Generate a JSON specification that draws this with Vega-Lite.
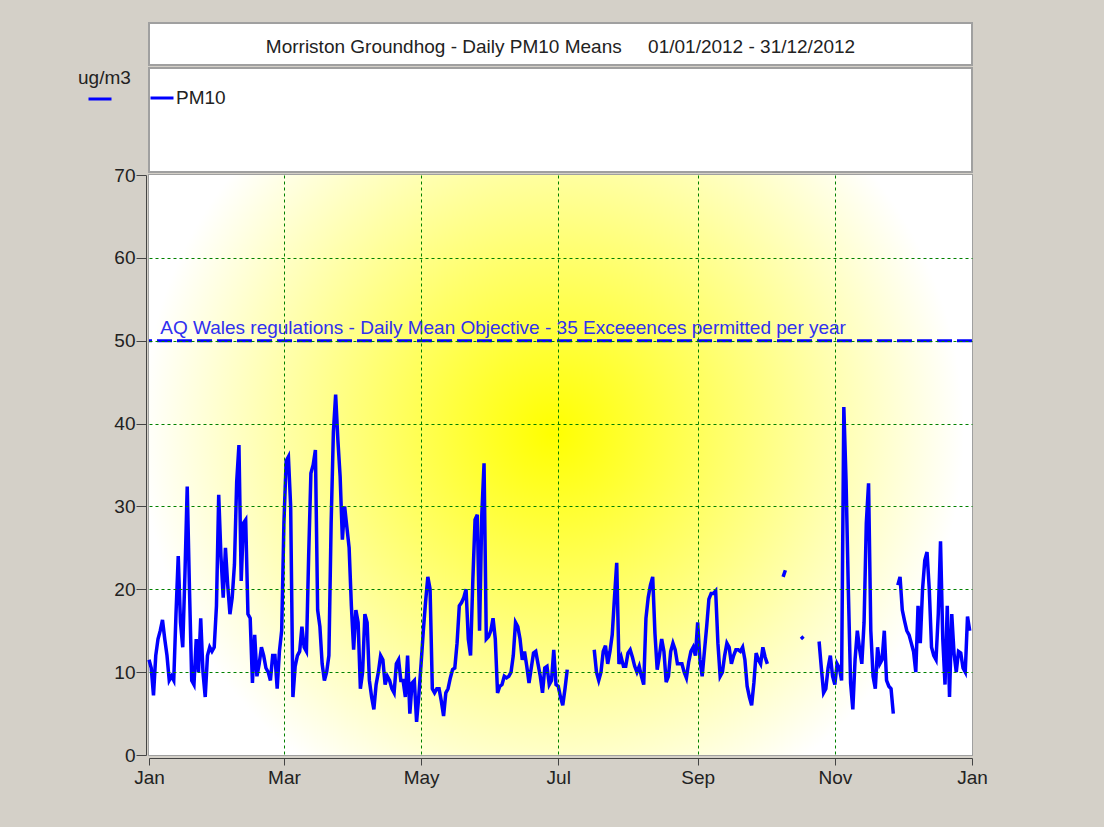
{
"$schema": "https://vega.github.io/schema/vega-lite/v6.json",
"background": "#d4d0c8",
"padding": {"left": 78, "top": 22, "right": 118, "bottom": 39},
"config": {
  "font": "Liberation Sans",
  "view": {"stroke": "#a0a0a0", "strokeWidth": 2, "fill": "#ffffff"},
  "text": {"font": "Liberation Sans"}
},
"bounds": "flush",
"spacing": 3,
"vconcat": [
  {
    "width": 823, "height": 42,
    "data": {"values": [{"t": "Morriston Groundhog - Daily PM10 Means \u00a0\u00a0\u00a0\u00a001/01/2012 - 31/12/2012"}]},
    "mark": {"type": "text", "fontSize": 19, "color": "#222222", "dy": 3},
    "encoding": {
      "x": {"datum": 0, "type": "quantitative", "scale": {"domain": [-1, 1]}, "axis": null},
      "y": {"datum": 0, "type": "quantitative", "scale": {"domain": [-1, 1]}, "axis": null},
      "text": {"field": "t"}
    }
  },
  {
    "width": 823, "height": 104,
    "data": {"values": [{"t": ""}]},
    "mark": {"type": "text", "fontSize": 19},
    "encoding": {
      "x": {"datum": 0, "type": "quantitative", "scale": {"domain": [-1, 1]}, "axis": null},
      "y": {"datum": 0, "type": "quantitative", "scale": {"domain": [-1, 1]}, "axis": null},
      "text": {"field": "t"}
    }
  },
  {
    "width": 823, "height": 580,
    "layer": [
      {
        "data": {"values": [{}]},
        "mark": {"type": "rect", "color": {"gradient": "radial", "x1": 0.49, "y1": 0.46, "r1": 0, "x2": 0.49, "y2": 0.46, "r2": 0.5, "stops": [{"offset": 0, "color": "#ffff00"}, {"offset": 1, "color": "#ffffff"}]}},
        "encoding": {
          "x": {"datum": {"year": 2012, "month": 1, "date": 1, "utc": true}, "type": "temporal"},
          "x2": {"datum": {"year": 2013, "month": 1, "date": 1, "utc": true}},
          "y": {"datum": 0, "type": "quantitative"},
          "y2": {"datum": 70}
        }
      },
      {
        "data": {"values": [{}]},
        "mark": {"type": "rule", "color": "#0000ff", "strokeWidth": 3, "strokeDash": [15, 5]},
        "encoding": {"y": {"datum": 50, "type": "quantitative"}}
      },
      {
        "data": {"values": [{}]},
        "mark": {"type": "text", "align": "left", "baseline": "alphabetic", "dy": -7, "fontSize": 19, "color": "#3030f0"},
        "encoding": {
          "x": {"datum": {"year": 2012, "month": 1, "date": 6, "utc": true}, "type": "temporal"},
          "y": {"datum": 50, "type": "quantitative"},
          "text": {"value": "AQ Wales regulations - Daily Mean Objective - 35 Exceeences permitted per year"}
        }
      },
      {
        "data": {"values": [
{"d":"2012-01-01","v":11.5},{"d":"2012-01-02","v":10.5},{"d":"2012-01-03","v":7.2},{"d":"2012-01-04","v":12},{"d":"2012-01-05","v":14},{"d":"2012-01-06","v":15},{"d":"2012-01-07","v":16.3},{"d":"2012-01-08","v":14},{"d":"2012-01-09","v":12},{"d":"2012-01-10","v":9},{"d":"2012-01-11","v":9.5},{"d":"2012-01-12","v":9},{"d":"2012-01-13","v":17},{"d":"2012-01-14","v":24},{"d":"2012-01-15","v":16},{"d":"2012-01-16","v":13},{"d":"2012-01-17","v":22},{"d":"2012-01-18","v":32.4},{"d":"2012-01-19","v":20},{"d":"2012-01-20","v":9},{"d":"2012-01-21","v":8.5},{"d":"2012-01-22","v":14},{"d":"2012-01-23","v":10},{"d":"2012-01-24","v":16.5},{"d":"2012-01-25","v":10},{"d":"2012-01-26","v":7},{"d":"2012-01-27","v":12},{"d":"2012-01-28","v":13},{"d":"2012-01-29","v":12.5},{"d":"2012-01-30","v":13},{"d":"2012-01-31","v":18},
{"d":"2012-02-01","v":31.4},{"d":"2012-02-02","v":24},{"d":"2012-02-03","v":19},{"d":"2012-02-04","v":25},{"d":"2012-02-05","v":20.5},{"d":"2012-02-06","v":17},{"d":"2012-02-07","v":19},{"d":"2012-02-08","v":23},{"d":"2012-02-09","v":33},{"d":"2012-02-10","v":37.4},{"d":"2012-02-11","v":21},{"d":"2012-02-12","v":28},{"d":"2012-02-13","v":28.4},{"d":"2012-02-14","v":17},{"d":"2012-02-15","v":16.5},{"d":"2012-02-16","v":8.7},{"d":"2012-02-17","v":14.5},{"d":"2012-02-18","v":9.5},{"d":"2012-02-19","v":11},{"d":"2012-02-20","v":13},{"d":"2012-02-21","v":12},{"d":"2012-02-22","v":10.5},{"d":"2012-02-23","v":10},{"d":"2012-02-24","v":9},{"d":"2012-02-25","v":12},{"d":"2012-02-26","v":12},{"d":"2012-02-27","v":8},{"d":"2012-02-28","v":12.5},{"d":"2012-02-29","v":15},
{"d":"2012-03-01","v":28},{"d":"2012-03-02","v":35.5},{"d":"2012-03-03","v":36},{"d":"2012-03-04","v":30},{"d":"2012-03-05","v":7},{"d":"2012-03-06","v":10.7},{"d":"2012-03-07","v":12},{"d":"2012-03-08","v":12.5},{"d":"2012-03-09","v":15.5},{"d":"2012-03-10","v":13},{"d":"2012-03-11","v":12.5},{"d":"2012-03-12","v":24},{"d":"2012-03-13","v":34},{"d":"2012-03-14","v":35},{"d":"2012-03-15","v":36.8},{"d":"2012-03-16","v":17.5},{"d":"2012-03-17","v":15.5},{"d":"2012-03-18","v":11},{"d":"2012-03-19","v":9},{"d":"2012-03-20","v":10},{"d":"2012-03-21","v":12},{"d":"2012-03-22","v":28},{"d":"2012-03-23","v":39},{"d":"2012-03-24","v":43.5},{"d":"2012-03-25","v":38},{"d":"2012-03-26","v":33.6},{"d":"2012-03-27","v":26},{"d":"2012-03-28","v":30},{"d":"2012-03-29","v":27.5},{"d":"2012-03-30","v":25},{"d":"2012-03-31","v":18},
{"d":"2012-04-01","v":12.7},{"d":"2012-04-02","v":17.5},{"d":"2012-04-03","v":16},{"d":"2012-04-04","v":8},{"d":"2012-04-05","v":10},{"d":"2012-04-06","v":17},{"d":"2012-04-07","v":16},{"d":"2012-04-08","v":9},{"d":"2012-04-09","v":7},{"d":"2012-04-10","v":5.5},{"d":"2012-04-11","v":8.5},{"d":"2012-04-12","v":10},{"d":"2012-04-13","v":12},{"d":"2012-04-14","v":11.5},{"d":"2012-04-15","v":8.5},{"d":"2012-04-16","v":9.5},{"d":"2012-04-17","v":9},{"d":"2012-04-18","v":8},{"d":"2012-04-19","v":7.5},{"d":"2012-04-20","v":11},{"d":"2012-04-21","v":11.5},{"d":"2012-04-22","v":9},{"d":"2012-04-23","v":9},{"d":"2012-04-24","v":7},{"d":"2012-04-25","v":12},{"d":"2012-04-26","v":5},{"d":"2012-04-27","v":8.7},{"d":"2012-04-28","v":9},{"d":"2012-04-29","v":4},{"d":"2012-04-30","v":7.2},
{"d":"2012-05-01","v":11},{"d":"2012-05-02","v":15},{"d":"2012-05-03","v":18.5},{"d":"2012-05-04","v":21.5},{"d":"2012-05-05","v":20},{"d":"2012-05-06","v":8},{"d":"2012-05-07","v":7.5},{"d":"2012-05-08","v":8},{"d":"2012-05-09","v":8},{"d":"2012-05-10","v":6.5},{"d":"2012-05-11","v":4.7},{"d":"2012-05-12","v":7.5},{"d":"2012-05-13","v":8},{"d":"2012-05-14","v":9.3},{"d":"2012-05-15","v":10.3},{"d":"2012-05-16","v":10.5},{"d":"2012-05-17","v":13.5},{"d":"2012-05-18","v":18},{"d":"2012-05-19","v":18.4},{"d":"2012-05-20","v":19},{"d":"2012-05-21","v":20},{"d":"2012-05-22","v":14},{"d":"2012-05-23","v":12},{"d":"2012-05-24","v":21},{"d":"2012-05-25","v":28.4},{"d":"2012-05-26","v":29},{"d":"2012-05-27","v":15},{"d":"2012-05-28","v":29},{"d":"2012-05-29","v":35.2},{"d":"2012-05-30","v":14},{"d":"2012-05-31","v":14.3},
{"d":"2012-06-01","v":15},{"d":"2012-06-02","v":16.5},{"d":"2012-06-03","v":14},{"d":"2012-06-04","v":7.5},{"d":"2012-06-05","v":8.3},{"d":"2012-06-06","v":8.5},{"d":"2012-06-07","v":9.5},{"d":"2012-06-08","v":9.3},{"d":"2012-06-09","v":9.5},{"d":"2012-06-10","v":10},{"d":"2012-06-11","v":12},{"d":"2012-06-12","v":16},{"d":"2012-06-13","v":15.5},{"d":"2012-06-14","v":14},{"d":"2012-06-15","v":11.5},{"d":"2012-06-16","v":12.5},{"d":"2012-06-17","v":10.7},{"d":"2012-06-18","v":8.7},{"d":"2012-06-19","v":10.5},{"d":"2012-06-20","v":12.3},{"d":"2012-06-21","v":12.5},{"d":"2012-06-22","v":11},{"d":"2012-06-23","v":9.5},{"d":"2012-06-24","v":7.5},{"d":"2012-06-25","v":10.5},{"d":"2012-06-26","v":10.7},{"d":"2012-06-27","v":8.5},{"d":"2012-06-28","v":9},{"d":"2012-06-29","v":12.7},{"d":"2012-06-30","v":8.5},
{"d":"2012-07-01","v":8.3},{"d":"2012-07-02","v":7},{"d":"2012-07-03","v":6},{"d":"2012-07-04","v":8},{"d":"2012-07-05","v":10.3},{"d":"2012-07-06","v":null},{"d":"2012-07-07","v":null},{"d":"2012-07-08","v":null},{"d":"2012-07-09","v":null},{"d":"2012-07-10","v":null},{"d":"2012-07-11","v":null},{"d":"2012-07-12","v":null},{"d":"2012-07-13","v":null},{"d":"2012-07-14","v":null},{"d":"2012-07-15","v":null},{"d":"2012-07-16","v":null},{"d":"2012-07-17","v":12.7},{"d":"2012-07-18","v":10},{"d":"2012-07-19","v":9},{"d":"2012-07-20","v":10},{"d":"2012-07-21","v":12.5},{"d":"2012-07-22","v":13.2},{"d":"2012-07-23","v":11},{"d":"2012-07-24","v":12.5},{"d":"2012-07-25","v":14.5},{"d":"2012-07-26","v":19},{"d":"2012-07-27","v":23.2},{"d":"2012-07-28","v":11},{"d":"2012-07-29","v":11.8},{"d":"2012-07-30","v":10.7},{"d":"2012-07-31","v":10.7},
{"d":"2012-08-01","v":12.3},{"d":"2012-08-02","v":12.7},{"d":"2012-08-03","v":11.8},{"d":"2012-08-04","v":10.7},{"d":"2012-08-05","v":10},{"d":"2012-08-06","v":10.7},{"d":"2012-08-07","v":9.5},{"d":"2012-08-08","v":8.5},{"d":"2012-08-09","v":16.5},{"d":"2012-08-10","v":19},{"d":"2012-08-11","v":20.5},{"d":"2012-08-12","v":21.5},{"d":"2012-08-13","v":14.7},{"d":"2012-08-14","v":10.3},{"d":"2012-08-15","v":12},{"d":"2012-08-16","v":14},{"d":"2012-08-17","v":12.5},{"d":"2012-08-18","v":8.8},{"d":"2012-08-19","v":9.5},{"d":"2012-08-20","v":12.5},{"d":"2012-08-21","v":13.5},{"d":"2012-08-22","v":12.7},{"d":"2012-08-23","v":11},{"d":"2012-08-24","v":11},{"d":"2012-08-25","v":11},{"d":"2012-08-26","v":10},{"d":"2012-08-27","v":9.3},{"d":"2012-08-28","v":11.2},{"d":"2012-08-29","v":12.5},{"d":"2012-08-30","v":13},{"d":"2012-08-31","v":12},
{"d":"2012-09-01","v":16},{"d":"2012-09-02","v":11.5},{"d":"2012-09-03","v":9.5},{"d":"2012-09-04","v":12.5},{"d":"2012-09-05","v":15.5},{"d":"2012-09-06","v":18.8},{"d":"2012-09-07","v":19.5},{"d":"2012-09-08","v":19.5},{"d":"2012-09-09","v":19.8},{"d":"2012-09-10","v":13.5},{"d":"2012-09-11","v":9.5},{"d":"2012-09-12","v":10},{"d":"2012-09-13","v":12},{"d":"2012-09-14","v":13.5},{"d":"2012-09-15","v":13},{"d":"2012-09-16","v":11},{"d":"2012-09-17","v":12},{"d":"2012-09-18","v":12.7},{"d":"2012-09-19","v":12.7},{"d":"2012-09-20","v":12.5},{"d":"2012-09-21","v":13},{"d":"2012-09-22","v":11.5},{"d":"2012-09-23","v":8.3},{"d":"2012-09-24","v":7},{"d":"2012-09-25","v":6},{"d":"2012-09-26","v":8.7},{"d":"2012-09-27","v":12.3},{"d":"2012-09-28","v":11.5},{"d":"2012-09-29","v":11},{"d":"2012-09-30","v":13},
{"d":"2012-10-01","v":11.8},{"d":"2012-10-02","v":11},{"d":"2012-10-03","v":null},{"d":"2012-10-04","v":null},{"d":"2012-10-05","v":null},{"d":"2012-10-06","v":null},{"d":"2012-10-07","v":null},{"d":"2012-10-08","v":null},{"d":"2012-10-09","v":21.5},{"d":"2012-10-10","v":22.3},{"d":"2012-10-11","v":null},{"d":"2012-10-12","v":null},{"d":"2012-10-13","v":null},{"d":"2012-10-14","v":null},{"d":"2012-10-15","v":null},{"d":"2012-10-16","v":null},{"d":"2012-10-17","v":14.3},{"d":"2012-10-18","v":14},{"d":"2012-10-19","v":null},{"d":"2012-10-20","v":null},{"d":"2012-10-21","v":null},{"d":"2012-10-22","v":null},{"d":"2012-10-23","v":null},{"d":"2012-10-24","v":null},{"d":"2012-10-25","v":13.7},{"d":"2012-10-26","v":10.5},{"d":"2012-10-27","v":7.5},{"d":"2012-10-28","v":8},{"d":"2012-10-29","v":10.5},{"d":"2012-10-30","v":12},{"d":"2012-10-31","v":9.5},
{"d":"2012-11-01","v":8.5},{"d":"2012-11-02","v":11},{"d":"2012-11-03","v":10.5},{"d":"2012-11-04","v":9},{"d":"2012-11-05","v":42},{"d":"2012-11-06","v":33},{"d":"2012-11-07","v":20},{"d":"2012-11-08","v":8.7},{"d":"2012-11-09","v":5.5},{"d":"2012-11-10","v":11.5},{"d":"2012-11-11","v":15},{"d":"2012-11-12","v":12.8},{"d":"2012-11-13","v":11},{"d":"2012-11-14","v":16},{"d":"2012-11-15","v":28},{"d":"2012-11-16","v":32.8},{"d":"2012-11-17","v":15},{"d":"2012-11-18","v":9.5},{"d":"2012-11-19","v":8},{"d":"2012-11-20","v":13},{"d":"2012-11-21","v":11},{"d":"2012-11-22","v":11.5},{"d":"2012-11-23","v":15},{"d":"2012-11-24","v":9},{"d":"2012-11-25","v":8.3},{"d":"2012-11-26","v":8},{"d":"2012-11-27","v":5},{"d":"2012-11-28","v":null},{"d":"2012-11-29","v":20.5},{"d":"2012-11-30","v":21.5},
{"d":"2012-12-01","v":17.5},{"d":"2012-12-02","v":16.2},{"d":"2012-12-03","v":15},{"d":"2012-12-04","v":14.5},{"d":"2012-12-05","v":13.5},{"d":"2012-12-06","v":12.5},{"d":"2012-12-07","v":10},{"d":"2012-12-08","v":18},{"d":"2012-12-09","v":13.5},{"d":"2012-12-10","v":20},{"d":"2012-12-11","v":23.5},{"d":"2012-12-12","v":24.5},{"d":"2012-12-13","v":20},{"d":"2012-12-14","v":13},{"d":"2012-12-15","v":12},{"d":"2012-12-16","v":11.5},{"d":"2012-12-17","v":17},{"d":"2012-12-18","v":25.8},{"d":"2012-12-19","v":14},{"d":"2012-12-20","v":8.5},{"d":"2012-12-21","v":18},{"d":"2012-12-22","v":7},{"d":"2012-12-23","v":17},{"d":"2012-12-24","v":12.3},{"d":"2012-12-25","v":10},{"d":"2012-12-26","v":12.5},{"d":"2012-12-27","v":12.3},{"d":"2012-12-28","v":10.5},{"d":"2012-12-29","v":10},{"d":"2012-12-30","v":16.7},{"d":"2012-12-31","v":15}
        ]},
        "mark": {"type": "line", "strokeWidth": 3.5, "invalid": "break-paths-show-domains"},
        "encoding": {
          "x": {
            "field": "d", "type": "temporal",
            "scale": {"type": "utc", "domain": [{"year": 2012, "month": 1, "date": 1, "utc": true}, {"year": 2013, "month": 1, "date": 1, "utc": true}]},
            "axis": {
              "title": null,
              "values": [
                {"year": 2012, "month": 1, "date": 1, "utc": true},
                {"year": 2012, "month": 3, "date": 1, "utc": true},
                {"year": 2012, "month": 5, "date": 1, "utc": true},
                {"year": 2012, "month": 7, "date": 1, "utc": true},
                {"year": 2012, "month": 9, "date": 1, "utc": true},
                {"year": 2012, "month": 11, "date": 1, "utc": true},
                {"year": 2013, "month": 1, "date": 1, "utc": true}
              ],
              "labelExpr": "utcFormat(datum.value, '%b')",
              "labelFont": "Liberation Sans", "labelFontSize": 19, "labelColor": "#222222",
              "labelFlush": false, "labelOverlap": false, "labelBound": false,
              "tickSize": 7, "tickColor": "#444444", "domainColor": "#444444",
              "offset": 3, "labelPadding": 3,
              "grid": true, "gridColor": "#008000", "gridDash": [3, 3], "gridWidth": 1,
              "gridOpacity": {"condition": {"test": "utcmonth(datum.value) == 0", "value": 0}, "value": 1},
              "zindex": 1
            }
          },
          "y": {
            "field": "v", "type": "quantitative",
            "scale": {"domain": [0, 70], "nice": false, "zero": true},
            "axis": {
              "title": null,
              "values": [0, 10, 20, 30, 40, 50, 60, 70],
              "labelFont": "Liberation Sans", "labelFontSize": 19, "labelColor": "#222222",
              "tickSize": 10, "tickColor": "#444444", "domainColor": "#444444",
              "offset": 3, "labelPadding": 1,
              "grid": true, "gridColor": "#008000", "gridDash": [3, 3], "gridWidth": 1,
              "gridOpacity": {"condition": {"test": "datum.value == 0 || datum.value == 70", "value": 0}, "value": 1},
              "zindex": 1
            }
          },
          "color": {
            "datum": "PM10", "type": "nominal",
            "scale": {"range": ["#0000ff"]},
            "legend": {
              "orient": "none", "legendX": 0, "legendY": 62, "title": null,
              "symbolType": "stroke", "symbolSize": 529, "symbolStrokeWidth": 3,
              "labelFont": "Liberation Sans", "labelFontSize": 19, "labelColor": "#222222",
              "labelOffset": 1, "padding": 0
            }
          },
          "opacity": {
            "datum": "ug/m3", "type": "ordinal",
            "scale": {"range": [1, 1]},
            "legend": {
              "orient": "none", "legendX": -71, "legendY": 46,
              "title": "ug/m3", "titleFont": "Liberation Sans", "titleFontSize": 19, "titleFontWeight": "normal", "titleColor": "#222222", "titlePadding": -2,
              "symbolType": "stroke", "symbolSize": 529, "symbolStrokeWidth": 3, "symbolStrokeColor": "#0000ff", "symbolOffset": 9,
              "labelExpr": "''", "padding": 0
            }
          }
        }
      }
    ]
  }
]
}
